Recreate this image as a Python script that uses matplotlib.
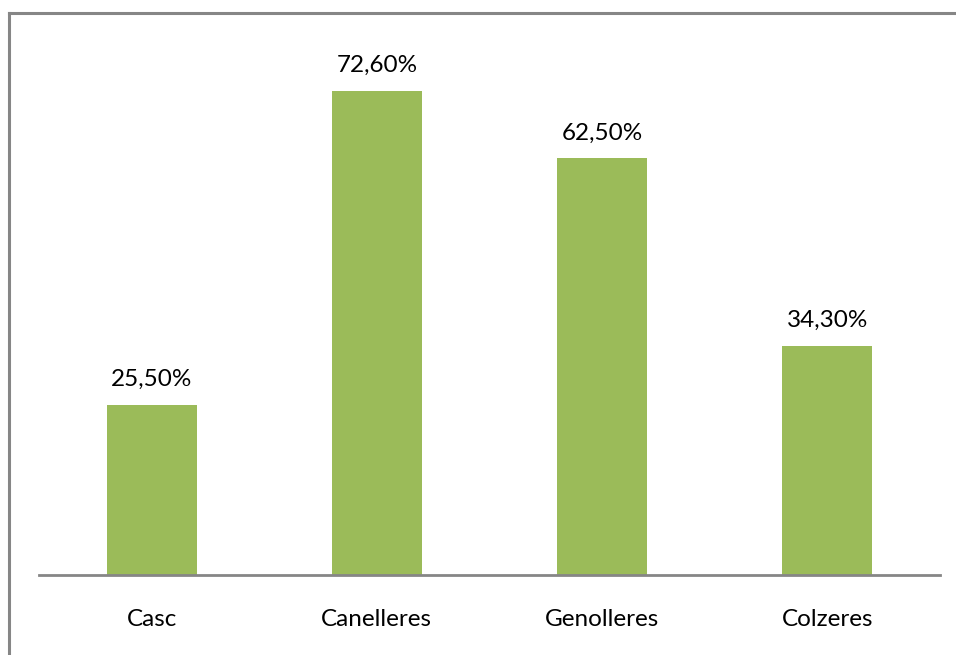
import matplotlib.pyplot as plt
from matplotlib.lines import Line2D

categories = ['Casc', 'Canelleres', 'Genolleres', 'Colzeres']
values = [25.5, 72.6, 62.5, 34.3]
labels = ['25,50%', '72,60%', '62,50%', '34,30%']

W, H = 956, 655
fig = plt.figure(figsize=(W / 100, H / 100), dpi=100)
fig.patch.set_facecolor('white')

# outer frame: only left and top edges fall inside the image
frame = dict(transform=fig.transFigure, color='#868686', linewidth=2.2)
fig.lines.append(Line2D([9 / W, 9 / W], [0, 1 - 13 / H], **frame))
fig.lines.append(Line2D([9 / W, 1.0], [1 - 13 / H, 1 - 13 / H], **frame))

ax = fig.add_axes([39 / W, 1 - 574.5 / H, 901 / W, (574.5 - 42) / H])
x = range(len(categories))
ax.bar(x, values, width=0.4, color='#9BBB59')
ax.set_xlim(-0.5, len(categories) - 0.5)
ax.set_ylim(0, 80)

for xi, v, lab in zip(x, values, labels):
    ax.annotate(lab, (xi, v), xytext=(0, 19), textcoords='offset pixels',
                ha='center', va='baseline', fontsize=17.5, family='Lato', color='black')

for xi, cat in zip(x, categories):
    ax.annotate(cat, (xi, 0), xycoords=('data', 'axes fraction'),
                xytext=(0, -52), textcoords='offset pixels',
                ha='center', va='baseline', fontsize=17.5, family='Lato', color='black')

ax.set_xticks([])
ax.set_yticks([])
for s in ['top', 'right', 'left']:
    ax.spines[s].set_visible(False)
ax.spines['bottom'].set_color('#868686')
ax.spines['bottom'].set_linewidth(2)

fig.savefig('out.png', dpi=100)
